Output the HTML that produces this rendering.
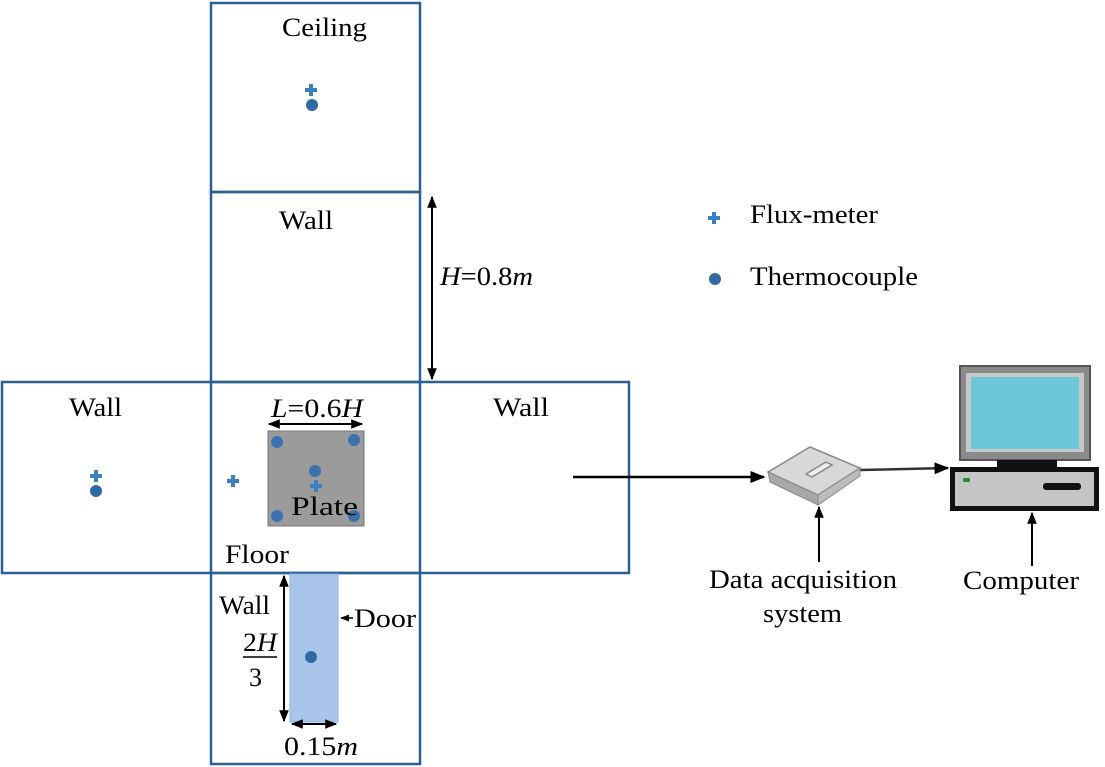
<!DOCTYPE html>
<html><head><meta charset="utf-8"><style>
html,body{margin:0;padding:0;background:#fff;}
svg{display:block;}
text{font-family:"Liberation Serif",serif;font-size:26px;fill:#000;}
</style></head><body>
<svg width="1105" height="767" viewBox="0 0 1105 767" xmlns="http://www.w3.org/2000/svg">
<defs>
<marker id="ah" viewBox="0 0 10 10" refX="9" refY="5" markerWidth="6" markerHeight="6" orient="auto-start-reverse"><path d="M0,1 L10,5 L0,9 Z" fill="#000"/></marker>
<g id="cross"><path d="M-2,-6h4v4h4v4h-4v4h-4v-4h-4v-4h4z" fill="#3a7fc0"/></g>
</defs>
<g fill="none" stroke="#2c5f94" stroke-width="2.5">
<rect x="211" y="3" width="209" height="189"/>
<rect x="211" y="192" width="209" height="190"/>
<rect x="2" y="382" width="627" height="191"/>
<line x1="211" y1="382" x2="211" y2="573"/>
<line x1="420" y1="382" x2="420" y2="573"/>
<rect x="211" y="573" width="209" height="191"/>
</g>
<text x="282" y="36" textLength="85" lengthAdjust="spacingAndGlyphs">Ceiling</text>
<use href="#cross" x="311" y="90"/>
<circle cx="312" cy="105" r="6" fill="#2f6aa6"/>
<text x="279" y="229" textLength="54" lengthAdjust="spacingAndGlyphs">Wall</text>
<line x1="432" y1="197" x2="432" y2="379" stroke="#000" stroke-width="2" marker-start="url(#ah)" marker-end="url(#ah)"/>
<text x="440" y="285" textLength="93" lengthAdjust="spacingAndGlyphs"><tspan font-style="italic">H</tspan>=0.8<tspan font-style="italic">m</tspan></text>
<use href="#cross" x="714" y="218"/>
<text x="750" y="223" textLength="128" lengthAdjust="spacingAndGlyphs">Flux-meter</text>
<circle cx="715" cy="279" r="6" fill="#2f6aa6"/>
<text x="750" y="285" textLength="168" lengthAdjust="spacingAndGlyphs">Thermocouple</text>
<text x="69" y="416" textLength="53" lengthAdjust="spacingAndGlyphs">Wall</text>
<use href="#cross" x="96" y="476"/>
<circle cx="96" cy="491" r="6" fill="#2f6aa6"/>
<text x="493" y="416" textLength="56" lengthAdjust="spacingAndGlyphs">Wall</text>
<text x="271" y="417" textLength="92" lengthAdjust="spacingAndGlyphs"><tspan font-style="italic">L</tspan>=0.6<tspan font-style="italic">H</tspan></text>
<line x1="269" y1="424" x2="362" y2="424" stroke="#000" stroke-width="2" marker-start="url(#ah)" marker-end="url(#ah)"/>
<rect x="268" y="431" width="96" height="95" fill="#9b9b9b" stroke="#777" stroke-width="1"/>
<circle cx="277" cy="442" r="6" fill="#3b72ad"/>
<circle cx="354" cy="440" r="6" fill="#3b72ad"/>
<circle cx="315" cy="471" r="6" fill="#3b72ad"/>
<use href="#cross" x="316" y="486"/>
<circle cx="277" cy="516" r="6" fill="#3b72ad"/>
<circle cx="354" cy="516" r="6" fill="#3b72ad"/>
<text x="291" y="515" textLength="67" lengthAdjust="spacingAndGlyphs">Plate</text>
<use href="#cross" x="233" y="481"/>
<text x="225" y="563" textLength="64" lengthAdjust="spacingAndGlyphs">Floor</text>
<rect x="290" y="574" width="48" height="148" fill="#a9c6ea" stroke="#8fb3e0" stroke-width="1"/>
<circle cx="311" cy="657" r="6" fill="#2f6aa6"/>
<line x1="284" y1="576" x2="284" y2="721" stroke="#000" stroke-width="2" marker-start="url(#ah)" marker-end="url(#ah)"/>
<line x1="292" y1="724" x2="336" y2="724" stroke="#000" stroke-width="2" marker-start="url(#ah)" marker-end="url(#ah)"/>
<text x="219" y="614" textLength="51" lengthAdjust="spacingAndGlyphs">Wall</text>
<text x="243" y="651" textLength="34" lengthAdjust="spacingAndGlyphs">2<tspan font-style="italic">H</tspan></text>
<line x1="243" y1="657" x2="277" y2="657" stroke="#000" stroke-width="1.5"/>
<text x="249" y="686">3</text>
<text x="284" y="755" textLength="74" lengthAdjust="spacingAndGlyphs">0.15<tspan font-style="italic">m</tspan></text>
<line x1="353" y1="618" x2="341" y2="618" stroke="#000" stroke-width="1.5" marker-end="url(#ah)"/>
<text x="354" y="627" textLength="62" lengthAdjust="spacingAndGlyphs">Door</text>
<line x1="573" y1="477" x2="764" y2="477" stroke="#000" stroke-width="2.5" marker-end="url(#ah)"/>
<line x1="860" y1="470" x2="948" y2="468" stroke="#333" stroke-width="2.5" marker-end="url(#ah)"/>
<line x1="819" y1="562" x2="819" y2="507" stroke="#000" stroke-width="2" marker-end="url(#ah)"/>
<line x1="1032" y1="566" x2="1032" y2="513" stroke="#000" stroke-width="2" marker-end="url(#ah)"/>
<g>
<path d="M768,472 L810,447 L860,468 L818,495 Z" fill="#d8d8d8" stroke="#888" stroke-width="1.5"/>
<path d="M768,472 L818,495 L818,505 L770,482 Z" fill="#a8a8a8" stroke="#888" stroke-width="1"/>
<path d="M818,495 L860,468 L860,476 L818,505 Z" fill="#bdbdbd" stroke="#888" stroke-width="1"/>
<path d="M806,474 L826,462 L832,465 L812,477 Z" fill="#eee" stroke="#888" stroke-width="1.5"/>
</g>
<rect x="960" y="366" width="130" height="94" fill="#8a8a8a" stroke="#555" stroke-width="2"/>
<rect x="966" y="373" width="118" height="79" fill="#c8c8c8"/>
<rect x="971" y="377" width="108" height="72" fill="#6cc7d8"/>
<rect x="997" y="460" width="60" height="8" fill="#111"/>
<rect x="950" y="467" width="149" height="44" fill="#111"/>
<rect x="955" y="472" width="139" height="34" fill="#c5c5c5"/>
<rect x="963" y="478" width="7" height="4" fill="#2a8a3a"/>
<rect x="1043" y="483" width="38" height="7" rx="3" fill="#111"/>
<text x="709" y="588" textLength="188" lengthAdjust="spacingAndGlyphs">Data acquisition</text>
<text x="763" y="622" textLength="79" lengthAdjust="spacingAndGlyphs">system</text>
<text x="963" y="589" textLength="116" lengthAdjust="spacingAndGlyphs">Computer</text>
</svg>
</body></html>
